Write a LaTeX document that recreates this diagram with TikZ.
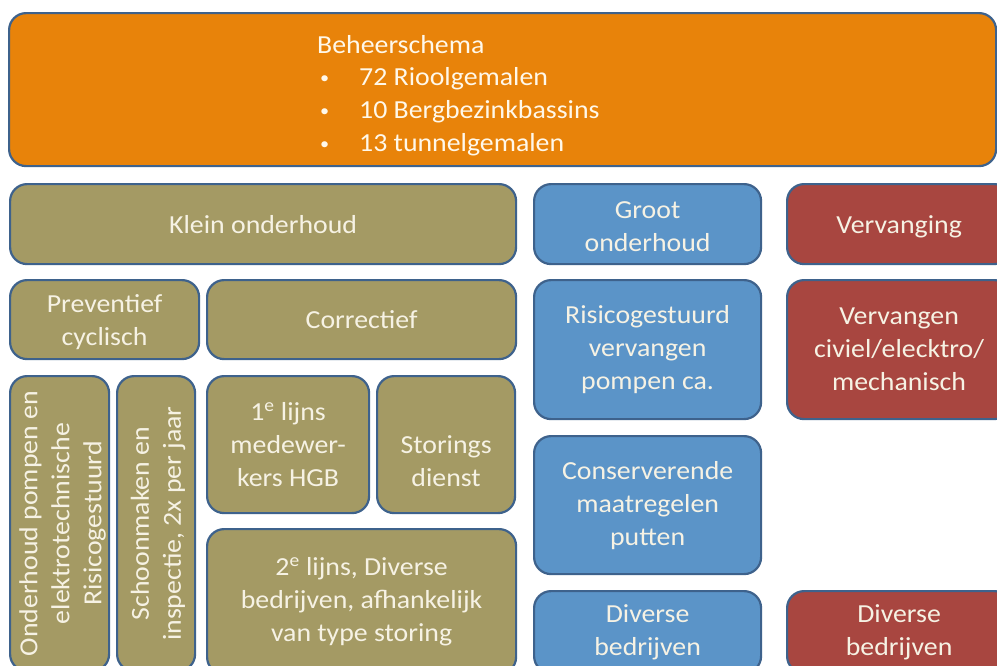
\documentclass[tikz,border=0pt]{standalone}
\usepackage{fontspec}
\setmainfont{Carlito}[FakeStretch=1.07]
\definecolor{orangeF}{RGB}{232,131,10}
\definecolor{oliveF}{RGB}{164,154,100}
\definecolor{blueF}{RGB}{91,148,200}
\definecolor{redF}{RGB}{168,70,64}
\definecolor{edgeC}{RGB}{62,98,140}
\definecolor{txtC}{RGB}{246,242,228}
\definecolor{txtO}{RGB}{255,248,234}
\newcommand{\blt}{\makebox[42pt][l]{\hspace{3pt}\raisebox{2pt}{\fontsize{17}{17}\selectfont\textbullet}}}
\tikzset{
  blok/.style={draw=edgeC, line width=2.2pt, rounded corners=17pt, fill=#1,
    anchor=north west, text=txtC, align=center, inner sep=0pt,
    font=\fontsize{26}{33}\selectfont},
  htxt/.style={text=txtC, align=center, inner sep=0pt,
    font=\fontsize{26}{33}\selectfont},
  vtxt/.style={text=txtC, align=center, inner sep=0pt, rotate=90,
    font=\fontsize{26}{32}\selectfont},
}
\begin{document}
\begin{tikzpicture}[x=1pt,y=-1pt]
\clip (0,0) rectangle (997,665);
\fill[white] (0,0) rectangle (997,665);
% top
\node[blok=orangeF, minimum width=987pt, minimum height=153pt] (top) at (8,12) {};
\node[anchor=north west, text=txtO, align=left, inner sep=0pt,
  font=\fontsize{26}{32.6}\selectfont] (toptxt) at (317,35)
  {Beheerschema\\
   \blt 72 Rioolgemalen\\
   \blt 10 Bergbezinkbassins\\
   \blt 13 tunnelgemalen};
% row 2
\node[blok=oliveF, minimum width=506pt, minimum height=80pt] (klein) at (9,183) {Klein onderhoud};
\node[blok=blueF, minimum width=227pt, minimum height=80pt] (groot) at (533,183) {};
\node[htxt] (grootT) at ([yshift=-3pt]groot.center) {Groot\\onderhoud};
\node[blok=redF, minimum width=224pt, minimum height=80pt] (verv) at (786,183) {};
\node[htxt] (vervT) at ([yshift=-3pt]verv.center) {Vervanging};
% row 3
\node[blok=oliveF, minimum width=189pt, minimum height=79pt] (prev) at (9,279) {};
\node[htxt] (prevT) at ([yshift=-2pt]prev.center) {Preventief\\cyclisch};
\node[blok=oliveF, minimum width=309pt, minimum height=79pt] (corr) at (206,279) {Correctief};
\node[blok=blueF, minimum width=227pt, minimum height=139pt] (risico) at (533,279) {Risicogestuurd\\vervangen\\pompen ca.};
\node[blok=redF, minimum width=224pt, minimum height=139pt] (vervang) at (786,279) {Vervangen\\civiel/elecktro/\\mechanisch};
% row 4
\node[blok=oliveF, minimum width=99pt, minimum height=295pt] (onderh) at (9,375) {};
\node[vtxt] (onderhT) at ([xshift=3pt]onderh.center) {Onderhoud pompen en\\elektrotechnische\\Risicogestuurd};
\node[blok=oliveF, minimum width=78pt, minimum height=295pt] (schoon) at (116,375) {};
\node[vtxt] (schoonT) at ([xshift=2pt]schoon.center) {Schoonmaken en\\inspectie, 2x per jaar};
\node[blok=oliveF, minimum width=162pt, minimum height=137pt] (lijn1) at (206,375) {1\textsuperscript{e} lijns\\medewer-\\kers HGB};
\node[blok=oliveF, minimum width=138pt, minimum height=137pt] (storing) at (376,375) {};
\node[htxt] (storingT) at ([yshift=-17pt]storing.center) {Storings\\dienst};
\node[blok=oliveF, minimum width=309pt, minimum height=145pt] (lijn2) at (206,528) {2\textsuperscript{e} lijns, Diverse\\bedrijven, afhankelijk\\van type storing};
\node[blok=blueF, minimum width=227pt, minimum height=138pt] (conserv) at (533,435) {Conserverende\\maatregelen\\putten};
\node[blok=blueF, minimum width=227pt, minimum height=82pt] (divB) at (533,590) {Diverse\\bedrijven};
\node[blok=redF, minimum width=224pt, minimum height=82pt] (divR) at (786,590) {Diverse\\bedrijven};
\end{tikzpicture}
\end{document}
